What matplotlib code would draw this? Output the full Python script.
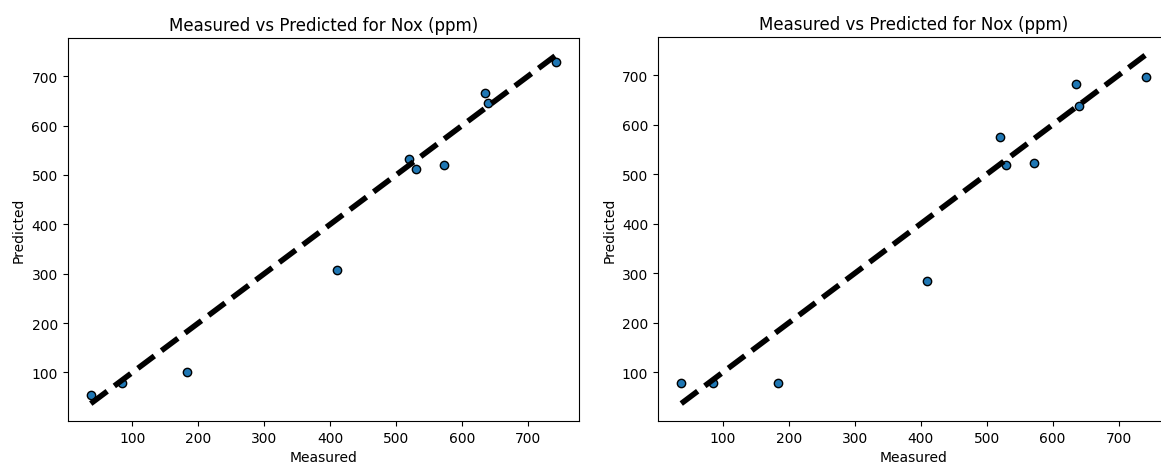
import numpy as np
import matplotlib
matplotlib.use("Agg")
import matplotlib.pyplot as plt

# measured NOx (ppm), same for both panels
measured = [37, 85, 183, 410, 520, 530, 572, 635, 640, 742]
# predictions of the two models
predicted_left = [54, 78, 101, 307, 533, 512, 521, 665, 646, 729]
predicted_right = [78, 78, 78, 285, 576, 519, 522, 682, 638, 697]

title = "Measured vs Predicted for Nox (ppm)"


def plot_panel(ax, y_true, y_pred):
    """
    Scatter of measured vs predicted with the identity line
    """
    ax.scatter(y_true, y_pred, edgecolors='k', zorder=2)
    lo, hi = min(y_true), max(y_true)
    ax.plot([lo, hi], [lo, hi], 'k--', lw=4, zorder=3)
    ax.set_xlabel('Measured')
    ax.set_ylabel('Predicted')
    ax.set_title(title)


fig = plt.figure(figsize=(11.61, 4.64), dpi=100)
ax1 = fig.add_axes([67.5 / 1161, 42 / 464, 511.5 / 1161, 383 / 464])
ax2 = fig.add_axes([658 / 1161, 42 / 464, 511.5 / 1161, 384 / 464])

plot_panel(ax1, measured, predicted_left)
plot_panel(ax2, measured, predicted_right)

fig.savefig("out.png", dpi=100)
